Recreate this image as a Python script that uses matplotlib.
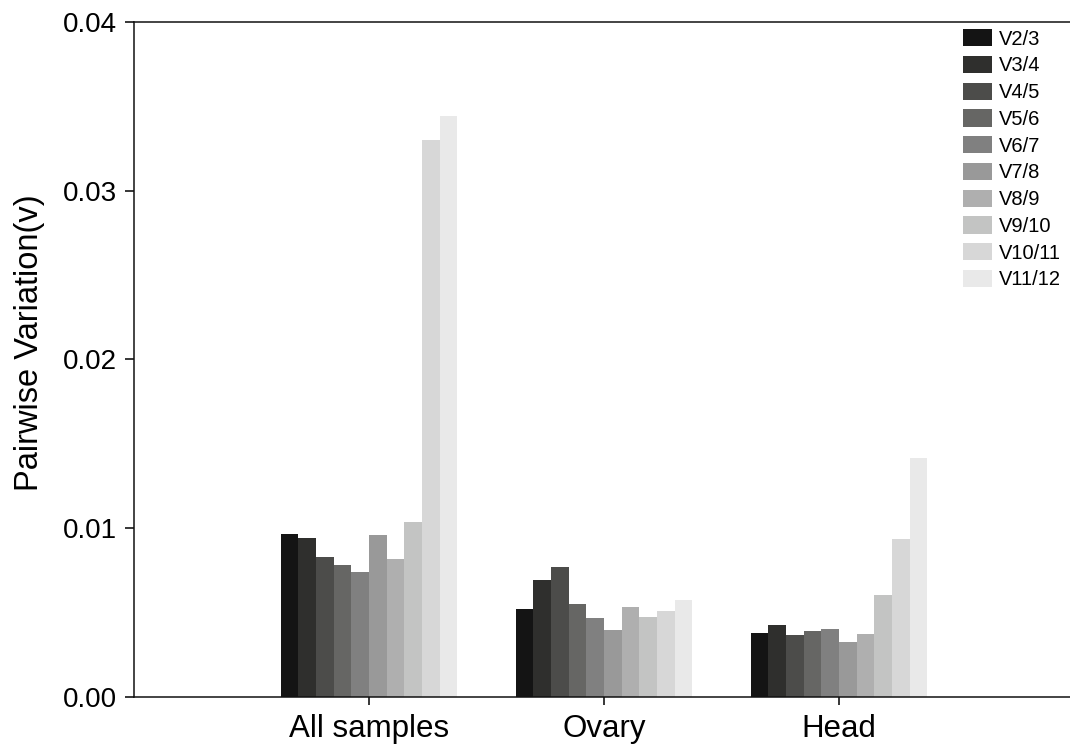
import matplotlib
matplotlib.use('Agg')
import matplotlib.pyplot as plt
import numpy as np

plt.rcParams['font.family'] = ['Liberation Sans', 'DejaVu Sans']

groups = ['All samples', 'Ovary', 'Head']
pairs = ['V2/3', 'V3/4', 'V4/5', 'V5/6', 'V6/7', 'V7/8', 'V8/9', 'V9/10', 'V10/11', 'V11/12']

# one row per pair, columns follow groups
values = [
    [0.00967, 0.00521, 0.00379],
    [0.00943, 0.00692, 0.00426],
    [0.00830, 0.00769, 0.00367],
    [0.00784, 0.00550, 0.00391],
    [0.00742, 0.00467, 0.00402],
    [0.00962, 0.00396, 0.00325],
    [0.00819, 0.00536, 0.00373],
    [0.01038, 0.00473, 0.00604],
    [0.03303, 0.00509, 0.00935],
    [0.03443, 0.00574, 0.01414],
]

colors = ['#141414', '#2f2f2d', '#4c4c4a', '#666664', '#808080',
          '#999999', '#afafaf', '#c3c4c3', '#d7d7d7', '#e9e9e9']

fig = plt.figure(figsize=(10.7, 7.47), dpi=100)
ax = fig.add_axes([134 / 1070, 50 / 747, 940 / 1070, 675 / 747])

x = np.arange(len(groups))
width = 0.0753
n = len(pairs)
for i, (name, vals) in enumerate(zip(pairs, values)):
    offset = (i - (n - 1) / 2) * width
    ax.bar(x + offset, vals, width, color=colors[i], label=name, linewidth=0)

ax.set_xlim(-1, 3)
ax.set_ylim(0, 0.04)
ax.set_yticks([0, 0.01, 0.02, 0.03, 0.04])
ax.set_yticklabels(['0.00', '0.01', '0.02', '0.03', '0.04'])
ax.set_xticks(x)
ax.set_xticklabels(groups)

for side in ['left', 'bottom', 'top']:
    ax.spines[side].set_linewidth(1.1)
    ax.spines[side].set_color('#111111')
ax.spines['right'].set_visible(False)

ax.tick_params(axis='y', direction='out', length=6.5, width=1.1, labelsize=20, pad=6)
ax.tick_params(axis='x', direction='out', length=6, width=1.1, labelsize=22.5, pad=6)
ax.set_ylabel('Pairwise Variation(v)', fontsize=23.5)
ax.yaxis.set_label_coords(-0.095, 0.525)

ax.legend(loc='upper left', bbox_to_anchor=(963 / 1070, (747 - 29) / 747),
          bbox_transform=fig.transFigure, frameon=False, fontsize=14.5,
          handlelength=1.45, handleheight=0.95, handletextpad=0.35,
          labelspacing=0.355, borderpad=0, borderaxespad=0)

fig.savefig('out.png', dpi=100)
